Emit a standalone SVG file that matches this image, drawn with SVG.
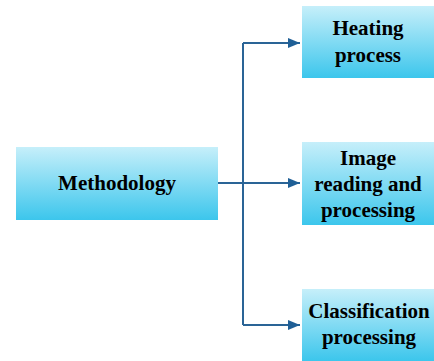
<svg xmlns="http://www.w3.org/2000/svg" width="434" height="361" viewBox="0 0 434 361">
<defs>
<linearGradient id="g" x1="0" y1="0" x2="0" y2="1">
<stop offset="0" stop-color="#c6effa"/>
<stop offset="1" stop-color="#3cc6ec"/>
</linearGradient>
<marker id="a" markerWidth="12" markerHeight="10" refX="12" refY="5" orient="auto" markerUnits="userSpaceOnUse">
<path d="M0,0 L12,5 L0,10 Z" fill="#1f5f96"/>
</marker>
<style>
.box{fill:url(#g);}
.t{font-family:"Liberation Serif",serif;font-weight:bold;font-size:21px;fill:#000;text-anchor:middle;}
.c{fill:none;stroke:#2a6496;stroke-width:2;}
</style>
</defs>
<rect width="434" height="361" fill="#fff"/>
<g id="connectors">
<path class="c" d="M218,183 L300,183" marker-end="url(#a)"/>
<path class="c" d="M243,43 L243,325"/>
<path class="c" d="M243,43 L300,43" marker-end="url(#a)"/>
<path class="c" d="M243,325 L300,325" marker-end="url(#a)"/>
</g>
<g id="methodology">
<rect class="box" x="16" y="147" width="202" height="73"/>
<text class="t" x="117" y="190">Methodology</text>
</g>
<g id="heating">
<rect class="box" x="302" y="6" width="132" height="72"/>
<text class="t" x="368" y="35">Heating</text>
<text class="t" x="368" y="62">process</text>
</g>
<g id="image">
<rect class="box" x="302" y="142" width="132" height="83"/>
<text class="t" x="368" y="165">Image</text>
<text class="t" x="368" y="191">reading and</text>
<text class="t" x="368" y="217">processing</text>
</g>
<g id="classification">
<rect class="box" x="302" y="289" width="132" height="72"/>
<text class="t" x="369" y="318">Classification</text>
<text class="t" x="369" y="344">processing</text>
</g>
</svg>
